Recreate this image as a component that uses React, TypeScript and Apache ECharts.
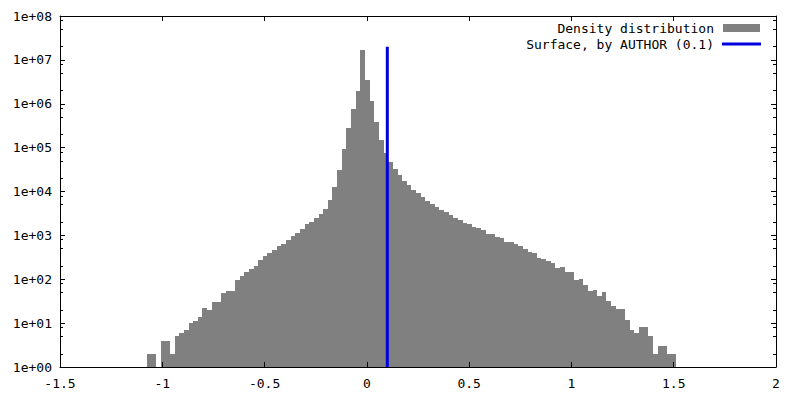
import React, { useEffect, useRef } from "react";
import * as echarts from "echarts";

// Histogram bins
const binStart = -1.076;
const binWidth = 0.0227;
const counts = [
  2, 2, 0, 4, 4, 2, 5, 6, 7, 10,
  11, 14, 22, 20, 30, 30, 49, 54, 54, 96,
  119, 146, 171, 200, 275, 339, 396, 464, 573, 636,
  785, 968, 1132, 1397, 1816, 2017, 2489, 3070, 3990, 6400,
  12670, 30900, 93000, 280000, 759000, 1950000, 16800000, 3480000, 1156000, 384000,
  149000, 75400, 47000, 32600, 23800, 17300, 14100, 10800, 9250, 7500,
  6070, 5190, 4435, 3790, 3410, 2913, 2489, 2240, 1915, 1816,
  1552, 1473, 1326, 1075, 1075, 918, 871, 706, 706, 636,
  573, 489, 418, 396, 305, 289, 261, 235, 180, 190,
  146, 146, 96, 101, 74, 55, 57, 41, 51, 32,
  25, 21, 21, 12, 7, 6, 8, 8, 5, 2,
  3, 3, 2, 2,
];

// Surface marker
const surfaceX = 0.1;
const surfaceYs = [1, 2e7];

// Axes
const xMin = -1.5;
const xMax = 2;
const xInterval = 0.5;
const yMin = 1;
const yMax = 1e8;
const minorMultipliers = [2, 5, 8];
const decades = [0, 1, 2, 3, 4, 5, 6, 7];

const seriesNames = ["Density distribution", "Surface, by AUTHOR (0.1)"];

const FONT = "'DejaVu Sans Mono', 'Liberation Mono', monospace";
const GRAY = "#808080";
const BLUE = "#0000dd";

export default function App() {
  const ref = useRef<HTMLDivElement>(null);

  useEffect(() => {
    if (!ref.current) return;
    const chart = echarts.init(ref.current, null, { renderer: "svg" });

    const histData = counts.map((c, i) => [
      binStart + i * binWidth,
      binStart + (i + 1) * binWidth,
      c,
    ]);
    const minorTicks: number[] = [];
    decades.forEach((e) =>
      minorMultipliers.forEach((m) => minorTicks.push(e + Math.log10(m)))
    );

    const textStyle = { color: "#000", fontFamily: FONT, fontSize: 13 };
    const lineStyle = { color: "#000", width: 1 };

    const xBase = {
      type: "value",
      min: xMin,
      max: xMax,
      interval: xInterval,
      splitLine: { show: false },
      axisLine: { show: true, onZero: false, lineStyle },
      axisTick: { show: true, inside: true, length: 5, lineStyle: { color: "#000" } },
      z: 5,
    };
    const yLogBase = {
      type: "log",
      logBase: 10,
      min: yMin,
      max: yMax,
      splitLine: { show: false },
      axisLine: { show: true, onZero: false, lineStyle },
      axisTick: { show: true, inside: true, length: 5, lineStyle: { color: "#000" } },
      z: 5,
    };
    const yMinorBase = {
      type: "value",
      min: 0,
      max: 8,
      splitLine: { show: false },
      axisLine: { show: false, onZero: false },
      axisLabel: { show: false },
      axisTick: {
        show: true,
        inside: true,
        length: 3,
        customValues: minorTicks,
        lineStyle: { color: "#000" },
      },
      z: 5,
    };

    const option: any = {
      animation: false,
      backgroundColor: "#fff",
      grid: { left: 60, right: 24, top: 16, bottom: 33, containLabel: false },
      xAxis: [
        {
          ...xBase,
          position: "bottom",
          axisLabel: { ...textStyle, margin: 10 },
        },
        { ...xBase, position: "top", axisLabel: { show: false } },
      ],
      yAxis: [
        {
          ...yLogBase,
          position: "left",
          axisLabel: {
            ...textStyle,
            margin: 8,
            formatter: (v: number) =>
              "1e+" + String(Math.round(Math.log10(v))).padStart(2, "0"),
          },
        },
        { ...yLogBase, position: "right", axisLabel: { show: false } },
        { ...yMinorBase, position: "left" },
        { ...yMinorBase, position: "right" },
      ],
      legend: [
        {
          data: [{ name: seriesNames[0], icon: "rect" }],
          orient: "vertical",
          align: "right",
          right: 40,
          top: 21.5,
          padding: 0,
          itemWidth: 37,
          itemHeight: 8,
          selectedMode: false,
          itemStyle: { color: GRAY },
          textStyle: { ...textStyle, padding: [0, 4, 0, 0] },
        },
        {
          data: [{ name: seriesNames[1], icon: "rect" }],
          orient: "vertical",
          align: "right",
          right: 39,
          top: 37.5,
          padding: 0,
          itemWidth: 39,
          itemHeight: 3,
          selectedMode: false,
          itemStyle: { color: BLUE },
          textStyle: { ...textStyle, padding: [0, 3, 0, 0] },
        },
      ],
      series: [
        {
          type: "custom",
          name: seriesNames[0],
          xAxisIndex: 0,
          yAxisIndex: 0,
          data: histData,
          encode: { x: [0, 1], y: 2 },
          itemStyle: { color: GRAY },
          renderItem: (params: any, api: any) => {
            const v = api.value(2);
            if (!(v > 0)) return null;
            const p0 = api.coord([api.value(0), v]);
            const p1 = api.coord([api.value(1), yMin]);
            const x0 = Math.round(p0[0]);
            const x1 = Math.round(p1[0]);
            const y0 = Math.round(p0[1]);
            const y1 = p1[1];
            return {
              type: "rect",
              shape: { x: x0, y: y0, width: x1 - x0, height: y1 - y0 },
              style: { fill: GRAY },
            };
          },
          z: 2,
        },
        {
          type: "line",
          name: seriesNames[1],
          xAxisIndex: 0,
          yAxisIndex: 0,
          data: surfaceYs.map((y) => [surfaceX, y]),
          symbol: "none",
          lineStyle: { color: BLUE, width: 3 },
          itemStyle: { color: BLUE },
          z: 3,
        },
      ],
    };

    chart.setOption(option);
    return () => chart.dispose();
  }, []);

  return (
    <div
      ref={ref}
      style={{ position: "absolute", left: 0, top: 0, width: 800, height: 400 }}
    />
  );
}
